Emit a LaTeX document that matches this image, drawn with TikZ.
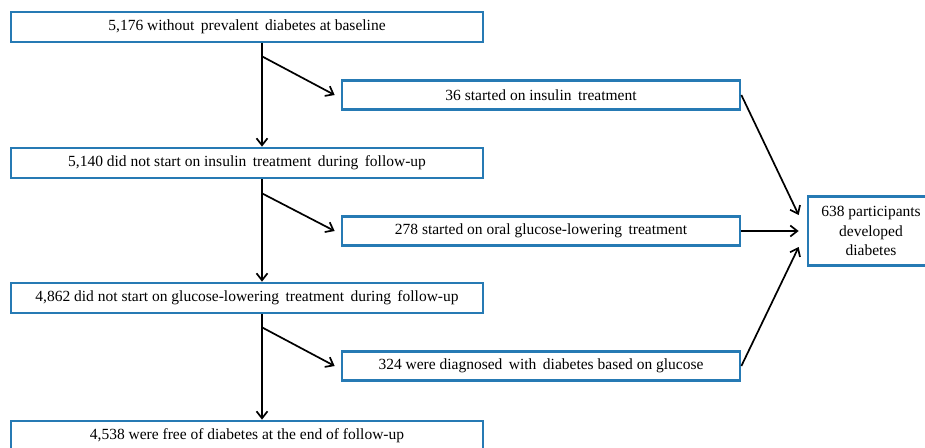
\documentclass[tikz,border=0pt]{standalone}
\usepackage{fontspec}
\setmainfont{Liberation Serif}
\usepackage{tikz}
\usetikzlibrary{arrows.meta,calc}
\definecolor{boxblue}{RGB}{38,122,180}

\begin{document}
\begin{tikzpicture}[x=1pt,y=-1pt,
    stage/.style={draw=boxblue, line width=2.7pt, inner sep=0pt, align=center,
                  font=\fontsize{15.5}{19.5}\selectfont},
    wide/.style={stage, minimum width=472pt, minimum height=30pt},
    side/.style={stage, minimum width=398pt, minimum height=29pt},
    flow/.style={-{Straight Barb[length=7pt,width=11pt]}, line width=1.7pt}]
          \useasboundingbox (0,0) rectangle (925,447);
          \clip (0,0) rectangle (925,447);
          \coordinate (trunk) at (262,0);

          \node[wide] (base) at (247,27) {5,176 without\, prevalent\, diabetes at baseline};
          \node[side] (ins) at (541,95) {36 started on insulin\, treatment};
          \node[wide] (noins) at (247,163) {5,140 did not start on insulin\, treatment\, during\, follow-up};
          \node[side] (oral) at (541,231) {278 started on oral glucose-lowering\, treatment};
          \node[wide] (nooral) at (247,298) {4,862 did not start on glucose-lowering\, treatment\, during\, follow-up};
          \node[side] (gluc) at (541,366) {324 were diagnosed\, with\, diabetes based on glucose};
          \node[wide] (free) at (247,436) {4,538 were free of diabetes at the end of follow-up};
          \node[stage, minimum width=126pt, minimum height=69pt] (dev) at (871,231)
               {638 participants\\developed\\diabetes};

          \draw[flow] (base.south -| trunk) to (noins.north -| trunk);
          \draw[flow] (noins.south -| trunk) to (nooral.north -| trunk);
          \draw[flow] (nooral.south -| trunk) to (free.north -| trunk);

          \draw[flow] ($(base.south -| trunk)+(0,13)$) to ($(ins.west)+(-6,0)$);
          \draw[flow] ($(noins.south -| trunk)+(0,14)$) to ($(oral.west)+(-6,0)$);
          \draw[flow] ($(nooral.south -| trunk)+(0,13)$) to ($(gluc.west)+(-6,0)$);

          \draw[flow] (ins.east) to ($(dev.west)+(-8,-16)$);
          \draw[flow] (oral.east) to ($(dev.west)+(-8,0)$);
          \draw[flow] (gluc.east) to ($(dev.west)+(-8,16)$);
        \end{tikzpicture}
\end{document}
